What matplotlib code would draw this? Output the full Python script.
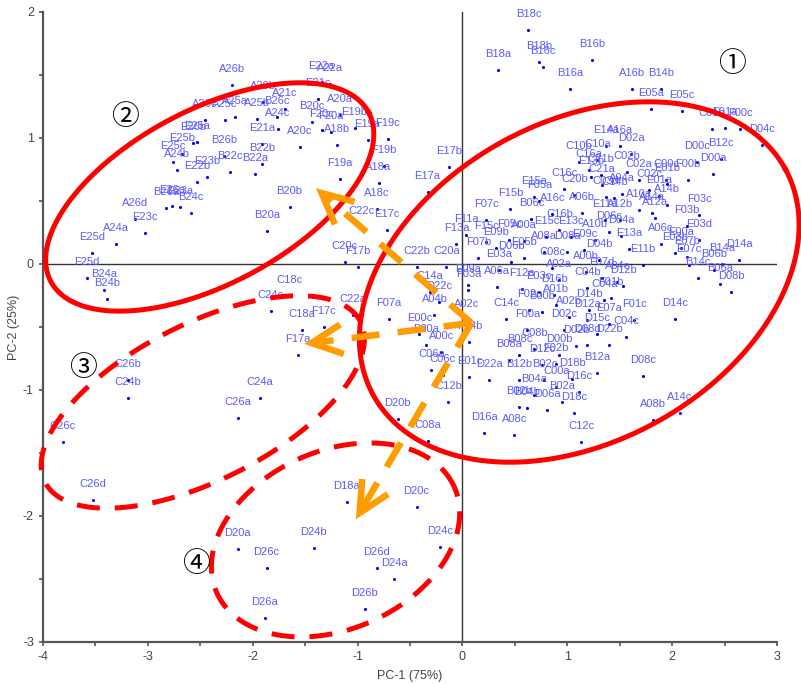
import numpy as np
import matplotlib
matplotlib.use("Agg")
import matplotlib.pyplot as plt

plt.rcParams["axes.unicode_minus"] = False

# ---- scores (PC-1, PC-2) ----
# cluster 1, upper / right part
names_1a = ("B18c B18b B16c B18a B16a B16b A16b B14b E05a E05c "
            "C01b F01a F00c D04c B12c D00c D00a F00b C00c E01b "
            "E14a A16a D02a E17b E17a C16a E13b C16c E15a C20b "
            "F05a F15b A16c A06b B06c F07c F11a E15c E13c F05c "
            "A00a C02c A04a C03d C21b C21a A14a A12a A12b C14b "
            "D04a F03b A06c E00a E03b E07b E13a E11b B14a B14c "
            "B06a D08b F07d A04c D12b F01c D14c E07a C04c D22b "
            "D15c D08c B12a A08b A14c").split()
pc1_1a = [0.629, 0.733, 0.771, 0.343, 1.029, 1.238, 1.619, 1.895, 1.8, 2.095,
          2.381, 2.505, 2.648, 2.857, 2.467, 2.238, 2.39, 2.152, 1.943, 1.952,
          1.371, 1.505, 1.61, -0.124, -0.333, 1.21, 1.229, 0.971, 0.686, 1.067,
          0.733, 0.457, 0.857, 1.143, 0.657, 0.229, 0.038, 0.8, 1.038, 0.448,
          0.59, 1.781, 1.524, 1.371, 1.324, 1.333, 1.81, 1.838, 1.505, 1.448,
          1.514, 2.143, 1.895, 2.086, 2.029, 2.143, 1.59, 1.724, 2.476, 2.248,
          2.457, 2.562, 1.333, 1.476, 1.533, 1.638, 2.029, 1.4, 1.562, 1.4,
          1.286, 1.724, 1.286, 1.819, 2.076]
pc2_1a = [1.857, 1.603, 1.563, 1.54, 1.389, 1.619, 1.389, 1.389, 1.23, 1.214,
          1.071, 1.079, 1.071, 0.944, 0.833, 0.81, 0.714, 0.667, 0.667, 0.635,
          0.937, 0.937, 0.873, 0.77, 0.571, 0.746, 0.69, 0.595, 0.532, 0.548,
          0.5, 0.437, 0.397, 0.405, 0.357, 0.349, 0.23, 0.214, 0.214, 0.19,
          0.183, 0.587, 0.556, 0.532, 0.706, 0.627, 0.405, 0.365, 0.349, 0.524,
          0.222, 0.302, 0.159, 0.127, 0.087, 0.056, 0.119, -0.008, 0.0, -0.111,
          -0.159, -0.222, -0.111, -0.143, -0.175, -0.444, -0.437, -0.476, -0.579, -0.643,
          -0.556, -0.889, -0.865, -1.238, -1.183]

# cluster 1, dense centre
names_1b = ("F13a F15c F07b C20a E09a F03a A06a C22b C14a D22c "
            "A04b A02c C14c F00a E00c F14b B00a A00c C06a C06c "
            "E01c D22a C12b D16a A08c C12c C08a B08c C08b D12c "
            "F02b B12b D18b C00a B02b B04b B02a D06a D18c D02b "
            "D08d E03c B00b A02b D12a A01b A08a D08a A00b C04b "
            "F12a F02a").split()
pc1_1b = [-0.057, 0.229, 0.152, -0.152, 0.057, 0.057, 0.333, -0.438, -0.314, -0.219,
          -0.267, 0.038, 0.419, 0.619, -0.41, 0.067, -0.343, -0.2, -0.295, -0.19,
          0.067, 0.257, -0.133, 0.21, 0.495, 1.133, -0.333, 0.543, 0.686, 0.762,
          0.895, 0.543, 1.048, 0.895, 0.543, 0.619, 0.952, 0.81, 1.067, 1.086,
          1.19, 0.733, 0.762, 1.019, 1.19, 0.895, 0.781, 1.0, 1.181, 1.19,
          0.571, 0.638]
pc2_1b = [0.159, 0.175, 0.048, -0.024, -0.167, -0.206, -0.183, -0.024, -0.222, -0.302,
          -0.405, -0.444, -0.437, -0.524, -0.556, -0.619, -0.643, -0.698, -0.841, -0.881,
          -0.897, -0.921, -1.095, -1.341, -1.357, -1.413, -1.405, -0.722, -0.675, -0.802,
          -0.794, -0.921, -0.913, -0.976, -1.135, -1.143, -1.095, -1.159, -1.183, -0.651,
          -0.643, -0.222, -0.381, -0.421, -0.444, -0.325, 0.095, 0.095, -0.063, -0.19,
          -0.198, -0.365]

# cluster 1, more points hidden under the overlapping labels
names_1c = ("C16b E09b E11a D06c A10b E09c D06b E05b C08c A02a "
            "F01b D16b D14b D02c D16c B04a B02c D00b B08a E03a "
            "C10a C10b C02a C02b E01a A14b E03d A10a C04a D04b "
            "F03c E07c D14a B06b").split()
pc1_1c = [0.924, 0.324, 1.362, 1.4, 1.267, 1.162, 0.467, 0.59, 0.857, 0.924,
          1.419, 0.876, 1.21, 0.971, 1.114, 0.686, 0.781, 0.924, 0.448, 0.352,
          1.286, 1.114, 1.686, 1.571, 1.876, 1.952, 2.257, 1.686, 1.352, 1.305,
          2.257, 2.162, 2.638, 2.4]
pc2_1c = [0.27, 0.127, 0.349, 0.254, 0.19, 0.111, 0.016, 0.048, -0.032, -0.127,
          -0.27, -0.246, -0.365, -0.524, -1.016, -1.04, -0.921, -0.722, -0.762, -0.048,
          0.825, 0.81, 0.667, 0.73, 0.54, 0.468, 0.19, 0.429, -0.286, 0.032,
          0.389, -0.008, 0.032, -0.048]

# cluster 2 (upper left)
names_2 = ("A26b A20b A21c A25b B26c A24c A26c A25c E25a E26b "
           "E25b E25c A24b E23b E22b B26b B22c B22b B22a E21a "
           "B20c A20a F20c F20a E19b E19a F19c A20c A18b F19b "
           "F19a A18a A18c B20b B20a C22c E17c E22a A22a E21c "
           "A24a E25d F25d B24a B24b A26d E23c B26a E26a E23a "
           "B24c A25a").split()
pc1_2 = [-2.20, -1.905, -1.695, -1.962, -1.771, -1.762, -2.457, -2.267, -2.533, -2.571,
         -2.676, -2.762, -2.724, -2.438, -2.533, -2.276, -2.219, -1.914, -1.981, -1.914,
         -1.438, -1.171, -1.343, -1.257, -1.029, -0.905, -0.714, -1.552, -1.2, -0.752,
         -1.171, -0.8, -0.819, -1.648, -1.867, -0.962, -0.724, -1.343, -1.267, -1.381,
         -3.305, -3.533, -3.581, -3.419, -3.39, -3.124, -3.029, -2.829, -2.771, -2.695,
         -2.59, -2.171]
pc2_2 = [1.42, 1.286, 1.23, 1.151, 1.167, 1.071, 1.143, 1.143, 0.968, 0.96,
         0.873, 0.81, 0.746, 0.69, 0.651, 0.857, 0.73, 0.794, 0.714, 0.952,
         1.127, 1.183, 1.063, 1.048, 1.079, 0.984, 0.992, 0.929, 0.944, 0.778,
         0.675, 0.643, 0.437, 0.452, 0.262, 0.294, 0.27, 1.444, 1.429, 1.31,
         0.159, 0.087, -0.111, -0.206, -0.278, 0.357, 0.246, 0.444, 0.46, 0.452,
         0.405, 1.167]

# points between the groups
names_0 = "C22a F07a C20c F17b D20b".split()
pc1_0 = [-1.048, -0.705, -1.124, -1.0, -0.619]
pc2_0 = [-0.405, -0.437, 0.016, -0.024, -1.23]

# cluster 3
names_3 = "C18c C24c C18a F17c F17a C24a C26a C26b C24b C26c C26d".split()
pc1_3 = [-1.648, -1.829, -1.533, -1.324, -1.571, -1.933, -2.143, -3.19, -3.19, -3.81, -3.524]
pc2_3 = [-0.254, -0.373, -0.524, -0.5, -0.722, -1.063, -1.222, -0.921, -1.063, -1.413, -1.873]

# cluster 4
names_4 = "D18a D20c D20a D24b D26c D26d D24a D26b D26a D24c".split()
pc1_4 = [-1.105, -0.438, -2.143, -1.419, -1.867, -0.819, -0.648, -0.933, -1.886, -0.21]
pc2_4 = [-1.889, -1.929, -2.262, -2.254, -2.413, -2.413, -2.5, -2.738, -2.81, -2.246]

groups = [(names_1a, pc1_1a, pc2_1a), (names_1b, pc1_1b, pc2_1b),
          (names_1c, pc1_1c, pc2_1c), (names_2, pc1_2, pc2_2),
          (names_0, pc1_0, pc2_0), (names_3, pc1_3, pc2_3),
          (names_4, pc1_4, pc2_4)]

# ---- figure ----
W, H = 801, 684
fig = plt.figure(figsize=(W / 100, H / 100), dpi=100)
ax = fig.add_axes([43 / W, 42 / H, 734 / W, 630 / H])
ax.set_xlim(-4, 3)
ax.set_ylim(-3, 2)
SX = 734 / 7.0   # px per unit
SY = 630 / 5.0

ax.axhline(0, color="#333333", lw=1, zorder=1)
ax.axvline(0, color="#333333", lw=1, zorder=1)

for nm, xs, ys in groups:
    assert len(nm) == len(xs) == len(ys), nm[0]
    ax.scatter(xs, ys, s=5, color="#0000ee", linewidths=0, zorder=2)
    for n, x, y in zip(nm, xs, ys):
        ax.annotate(n, (x, y), xytext=(0, 11.5), textcoords="offset points",
                    ha="center", va="center", fontsize=8, color="#5b5bff",
                    family="Liberation Sans", zorder=3)


def ring(cx, cy, a, b, ang, start=0.0):
    t = np.linspace(start, start + 2 * np.pi, 500)
    th = np.radians(ang)
    dx = a * np.cos(t) * np.cos(th) - b * np.sin(t) * np.sin(th)
    dy = a * np.cos(t) * np.sin(th) + b * np.sin(t) * np.cos(th)
    return cx + dx / SX, cy + dy / SY


red = "#ff0000"
x, y = ring(1.114, -0.143, 235, 160, 28.8)
ax.plot(x, y, color=red, lw=3.6, clip_on=False, zorder=4)
x, y = ring(-2.41, 0.532, 180, 87, 28)
ax.plot(x, y, color=red, lw=3.6, clip_on=False, zorder=4)
x, y = ring(-2.476, -1.095, 177, 78, 27)
ax.plot(x, y, color=red, lw=3.6, dashes=(4.6, 3.0), clip_on=False, zorder=4)
x, y = ring(-1.21, -2.19, 130, 89, 24)
ax.plot(x, y, color=red, lw=3.6, dashes=(4.6, 3.0), clip_on=False, zorder=4)

orange = "#ff9c00"


def arrow(x0, y0, x1, y1):
    ax.plot([x0, x1], [y0, y1], color=orange, lw=4.7, dashes=(4.3, 2.8),
            dash_capstyle="butt", zorder=5)
    ux, uy = (x1 - x0) * SX, (y1 - y0) * SY
    L = np.hypot(ux, uy)
    ux, uy = ux / L, uy / L
    pts = []
    for s in (1, -1):
        a = np.radians(26 * s)
        bx = -(ux * np.cos(a) - uy * np.sin(a))
        by = -(ux * np.sin(a) + uy * np.cos(a))
        pts.append((x1 + bx * 34 / SX, y1 + by * 34 / SY))
    ax.plot([pts[0][0], x1, pts[1][0]], [pts[0][1], y1, pts[1][1]],
            color=orange, lw=4.7, solid_capstyle="butt", solid_joinstyle="miter",
            zorder=5)


ox, oy = 0.086, -0.468
arrow(ox, oy, -1.343, 0.563)
arrow(ox, oy, -1.438, -0.627)
arrow(ox, oy, -0.981, -1.976)

for txt, tx, ty in [("①", 2.571, 1.587), ("②", -3.219, 1.167),
                    ("③", -3.619, -0.825), ("④", -2.543, -2.381)]:
    ax.text(tx, ty, txt, fontsize=20, family="Noto Sans CJK JP",
            ha="center", va="center", color="black", zorder=6)

# axes styling
for s in ("top", "right"):
    ax.spines[s].set_visible(False)
for s in ("left", "bottom"):
    ax.spines[s].set_color("#555555")
    ax.spines[s].set_linewidth(1.6)
ax.set_xticks(range(-4, 4))
ax.set_xticks(np.arange(-3.5, 3, 1), minor=True)
ax.set_yticks(range(-3, 3))
ax.set_yticks(np.arange(-2.5, 2, 1), minor=True)
ax.tick_params(which="both", direction="out", length=3, width=1.2,
               color="#555555", labelcolor="#444444", labelsize=9)
for lab in ax.get_xticklabels() + ax.get_yticklabels():
    lab.set_family("Liberation Sans")
ax.set_xlabel("PC-1 (75%)", fontsize=9, color="#444444", family="Liberation Sans")
ax.set_ylabel("PC-2 (25%)", fontsize=9, color="#444444", family="Liberation Sans")
ax.xaxis.set_label_coords(0.5, -0.044)
ax.yaxis.set_label_coords(-0.031, 0.5)

fig.savefig("out.png", dpi=100)
